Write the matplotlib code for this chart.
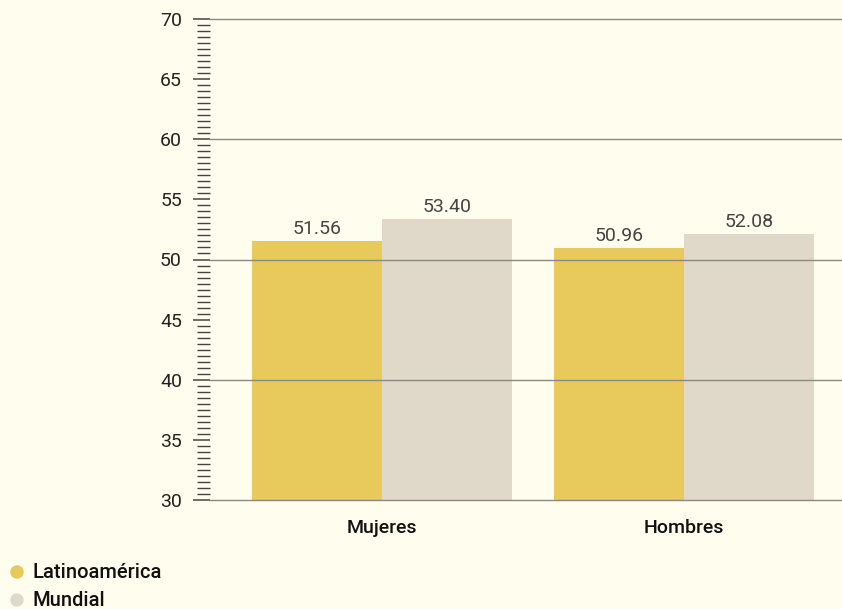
import matplotlib
matplotlib.use("Agg")
import matplotlib.pyplot as plt
from matplotlib.ticker import MultipleLocator
import numpy as np

categories = ["Mujeres", "Hombres"]
series_names = ["Latinoamérica", "Mundial"]
latam = [51.56, 50.96]
mundial = [53.40, 52.08]
yticks = [30, 35, 40, 45, 50, 55, 60, 65, 70]

bg = "#FFFDEE"
c_latam = "#E8C95B"
c_mund = "#E0D9C9"
plt.rcParams['font.family'] = ['Roboto', 'DejaVu Sans']

fig = plt.figure(figsize=(8.42, 6.09), dpi=100, facecolor=bg)
W, H = 842, 609
ax = fig.add_axes([210 / W, (609 - 500) / H, (842 - 210) / W, (500 - 19) / H])
ax.set_facecolor(bg)

x = np.arange(len(categories))
bw = 0.43
ax.bar(x - bw / 2, latam, bw, color=c_latam, zorder=1)
ax.bar(x + bw / 2, mundial, bw, color=c_mund, zorder=1)

for xi, v in zip(x - bw / 2, latam):
    ax.text(xi, v + 0.25, f"{v:.2f}", ha="center", va="bottom", fontsize=14,
            color="#444444")
for xi, v in zip(x + bw / 2, mundial):
    ax.text(xi, v + 0.25, f"{v:.2f}", ha="center", va="bottom", fontsize=14,
            color="#444444")

ax.set_ylim(30, 70)
ax.set_xlim(-0.5695, 1.523)
ax.set_yticks(yticks)
ax.yaxis.set_minor_locator(MultipleLocator(0.5))
ax.tick_params(axis="y", which="major", length=12.2, width=1.1, color="#444444",
               labelsize=14, labelcolor="#222222", pad=8)
ax.tick_params(axis="y", which="minor", length=9.4, width=1.0, color="#444444")
ax.set_xticks(x)
ax.set_xticklabels(categories, fontsize=14, fontweight="medium", color="#111111")
ax.tick_params(axis="x", length=0, pad=14)

for g in [30, 40, 50, 60, 70]:
    ax.axhline(g, color="#8a8a80", lw=1.0, zorder=3, clip_on=False)

for s in ax.spines.values():
    s.set_visible(False)

# legend
for i, (name, col) in enumerate(zip(series_names, [c_latam, c_mund])):
    yy = 1 - (572 + 28 * i) / H
    fig.patches.append(matplotlib.patches.Ellipse((17 / W, yy), 12 / W, 12 / H,
                                                  transform=fig.transFigure, color=col))
    fig.text(32 / W, yy, name, fontsize=14.5, va="center", ha="left", color="#111111",
             fontweight="medium")

fig.savefig("out.png", dpi=100, facecolor=bg)
